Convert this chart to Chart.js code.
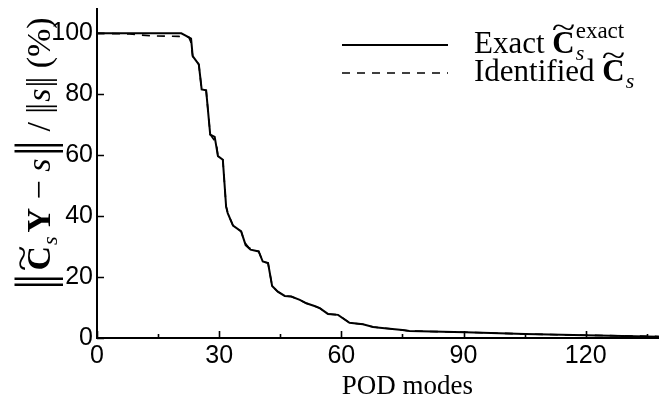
<!DOCTYPE html>
<html><head><meta charset="utf-8">
<script src="https://cdn.jsdelivr.net/npm/chart.js@4/dist/chart.umd.min.js"></script>
<style>html,body{margin:0;padding:0;background:#fff;overflow:hidden}#wrap{width:659px;height:403px;position:relative}</style>
</head><body><div id="wrap"><canvas id="c" width="659" height="403"></canvas></div>
<script>
// ---- data ----
const modesExact = [0,10,20.7,22.7,23.1,23.5,24.4,25.0,25.7,26.8,27.8,28.9,29.7,30.9,31.7,32.1,33.4,35.4,36.5,37.7,39.7,40.7,42.0,43.0,44.4,46.1,47.7,49.8,51.4,53.4,54.7,56.7,59.2,62.0,65.3,67.8,69.4,75,76.7,90.4,105.1,120,138];
const errExact   = [100,100,100,98.6,98.3,92.5,90.9,89.8,81.6,81.3,66.8,66,59.7,58.5,43.2,41,36.9,35,30.5,29,28.4,25.1,24.6,17.1,15.2,13.8,13.6,12.5,11.4,10.5,9.8,7.9,7.6,5.0,4.5,3.6,3.4,2.6,2.3,1.9,1.3,0.9,0.4];
const modesIdent = [0,8,13,20,22.5,23.0,23.5,24.4,25.0,25.7,26.8,27.8,28.5,29.3,29.7,30.9,31.7,32.1,33.4,35.4,36.2,37.3,39.7,40.7,42.0,43.0,44.4,46.1,47.7,49.8,51.4,53.4,54.7,56.7,59.2,62.0,65.3,67.8,69.4,75,76.7,90.4,105.1,120,138];
const errIdent   = [100,99.8,99.2,99,98.8,97.3,92.5,90.9,89.8,81.6,81.3,66.8,65.5,64.0,59.7,58.5,43.2,41,36.9,35,31.5,29.6,28.4,25.1,24.6,17.1,15.2,13.8,13.6,12.5,11.4,10.5,9.8,7.9,7.6,5.0,4.5,3.6,3.4,2.6,2.3,1.9,1.3,0.9,0.5];
const xTickValues = [0,30,60,90,120];
const xMinorTickValues = [15,45,75,105,135];
const yTickValues = [0,20,40,60,80,100];
const xLimits = [0,138];
const yLimits = [0,108];

const SERIF = "'Liberation Serif','DejaVu Serif',serif";
const SANS = "'Liberation Sans',Arial,sans-serif";

function tildeC(ctx, x, b, size){
  ctx.font = "bold " + size + "px " + SERIF;
  const wC = ctx.measureText("C").width;
  ctx.fillText("C", x, b);
  ctx.save();
  ctx.font = size + "px " + SERIF;
  const wt = ctx.measureText("~").width;
  ctx.translate(x + wC/2, b - size*0.5);
  ctx.scale(1.4, 1);
  ctx.fillText("~", -wt/2, 0);
  ctx.restore();
  return wC;
}

const decor = {
  id: 'decor',
  afterDraw(chart){
    const ctx = chart.ctx, xs = chart.scales.x, ys = chart.scales.y, ca = chart.chartArea;
    ctx.save();
    ctx.strokeStyle = '#000'; ctx.fillStyle = '#000'; ctx.lineWidth = 1.6;
    // inward ticks
    ctx.beginPath();
    xTickValues.forEach(v => { const p = Math.round(xs.getPixelForValue(v)) + 0.5; ctx.moveTo(p, ca.bottom); ctx.lineTo(p, ca.bottom - 7); });
    xMinorTickValues.forEach(v => { const p = Math.round(xs.getPixelForValue(v)) + 0.5; ctx.moveTo(p, ca.bottom); ctx.lineTo(p, ca.bottom - 4); });
    yTickValues.forEach(v => { const p = Math.round(ys.getPixelForValue(v)) + 0.5; ctx.moveTo(ca.left, p); ctx.lineTo(ca.left + 7, p); });
    ctx.stroke();

    // x title
    ctx.textBaseline = 'alphabetic';
    ctx.font = "27px " + SERIF;
    ctx.textAlign = 'center';
    ctx.fillText("POD modes", xs.getPixelForValue(75) + 5, 394);
    ctx.textAlign = 'left';

    // legend
    const lx0 = 342, lx1 = 448, tx = 474, r1 = 45, r2 = 73;
    ctx.lineWidth = 2; ctx.setLineDash([]);
    ctx.beginPath(); ctx.moveTo(lx0, r1); ctx.lineTo(lx1, r1); ctx.stroke();
    ctx.lineWidth = 1.6; ctx.setLineDash([8,7]);
    ctx.beginPath(); ctx.moveTo(lx0, r2); ctx.lineTo(lx1, r2); ctx.stroke();
    ctx.setLineDash([]);
    const LF = 31;
    let b = 53, x = tx;
    ctx.font = LF + "px " + SERIF; ctx.fillText("Exact", x, b); x += ctx.measureText("Exact ").width;
    x += tildeC(ctx, x, b, LF);
    ctx.font = "italic 22px " + SERIF; ctx.fillText("s", x + 1, b + 7);
    ctx.font = "23px " + SERIF; ctx.fillText("exact", x + 1, b - 15);
    b = 81; x = tx;
    ctx.font = LF + "px " + SERIF; ctx.fillText("Identified", x, b); x += ctx.measureText("Identified ").width;
    x += tildeC(ctx, x, b, LF);
    ctx.font = "italic 22px " + SERIF; ctx.fillText("s", x + 1, b + 7);

    // y title (rotated)
    ctx.save();
    ctx.translate(50, 290);
    ctx.rotate(-Math.PI/2);
    const F = 34;
    let cx = 0;
    const bigBars = () => {
      ctx.font = "52px " + SERIF;
      ctx.fillText("|", cx, 2); ctx.fillText("|", cx + 6, 2);
      cx += ctx.measureText("|").width + 6;
    };
    const smallBars = () => {
      ctx.font = F + "px " + SERIF;
      ctx.fillText("|", cx, 0); ctx.fillText("|", cx + 4, 0);
      cx += ctx.measureText("|").width + 4;
    };
    const txt = (s, f) => { ctx.font = f; ctx.fillText(s, cx, 0); cx += ctx.measureText(s).width; };
    bigBars(); cx += 3;
    cx += tildeC(ctx, cx, 0, F);
    ctx.font = "italic 22px " + SERIF; ctx.fillText("s", cx + 1, 7); cx += ctx.measureText("s").width + 5;
    txt("Y", "bold " + F + "px " + SERIF);
    txt(" \u2212 ", F + "px " + SERIF);
    txt("s", "italic " + F + "px " + SERIF);
    cx += 2; bigBars();
    txt(" / ", F + "px " + SERIF);
    smallBars(); cx += 1;
    txt("s", "italic " + F + "px " + SERIF);
    cx += 1; smallBars();
    txt(" (%)", F + "px " + SERIF);
    ctx.restore();
    ctx.restore();
  }
};

new Chart(document.getElementById('c'), {
  type: 'line',
  data: {
    datasets: [
      { label: 'Exact', data: modesExact.map((m,i)=>({x:m, y:errExact[i]})), borderColor:'#000', borderWidth:2, pointRadius:0, fill:false, tension:0 },
      { label: 'Identified', data: modesIdent.map((m,i)=>({x:m, y:errIdent[i]})), borderColor:'#000', borderWidth:1.6, borderDash:[8,7], pointRadius:0, fill:false, tension:0 }
    ]
  },
  options: {
    responsive:false, animation:false, devicePixelRatio:1,
    layout:{ padding:{ top:9, right:0, left:0, bottom:0 } },
    plugins:{ legend:{display:false}, tooltip:{enabled:false} },
    scales:{
      x:{ type:'linear', min:xLimits[0], max:xLimits[1],
          grid:{display:false, drawTicks:false}, border:{color:'#000', width:2},
          ticks:{ color:'#000', font:{family:SANS, size:25}, padding:3, maxRotation:0, autoSkip:false },
          afterBuildTicks: s => { s.ticks = xTickValues.map(v=>({value:v})); },
          afterFit: s => { s.height = 65; s.paddingLeft = 0; s.paddingRight = 0; } },
      y:{ type:'linear', min:yLimits[0], max:yLimits[1],
          grid:{display:false, drawTicks:false}, border:{color:'#000', width:2},
          ticks:{ color:'#000', font:{family:SANS, size:25}, padding:4, autoSkip:false },
          afterBuildTicks: s => { s.ticks = yTickValues.map(v=>({value:v})); },
          afterFit: s => { s.width = 97; s.paddingTop = 0; s.paddingBottom = 0; } }
    }
  },
  plugins:[decor]
});
</script></body></html>
